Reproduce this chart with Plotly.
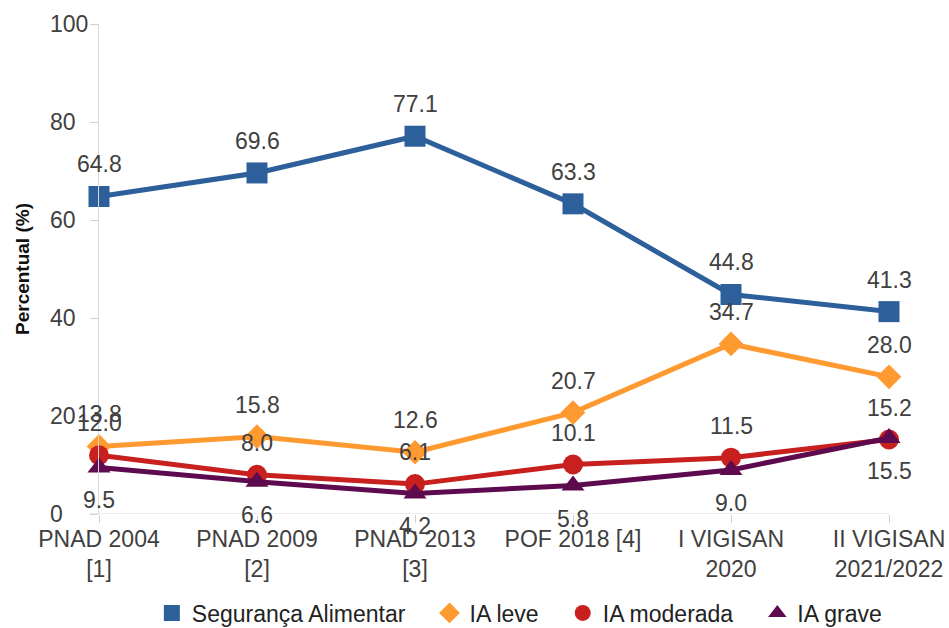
import plotly.graph_objects as go

categories = ["PNAD 2004<br>[1]", "PNAD 2009<br>[2]", "PNAD 2013<br>[3]",
              "POF 2018 [4]", "I VIGISAN<br>2020", "II VIGISAN<br>2021/2022"]
y_ticks = [0, 20, 40, 60, 80, 100]

seguranca = [64.8, 69.6, 77.1, 63.3, 44.8, 41.3]
ia_leve = [13.8, 15.8, 12.6, 20.7, 34.7, 28.0]
ia_moderada = [12.0, 8.0, 6.1, 10.1, 11.5, 15.2]
ia_grave = [9.5, 6.6, 4.2, 5.8, 9.0, 15.5]

# name, values, colour, marker symbol, marker size, label side (+1 above, -1 below)
series = [
    ("Segurança Alimentar", seguranca, "#2D5F9B", "square", 21, 1),
    ("IA leve", ia_leve, "#FF9A30", "diamond", 19, 1),
    ("IA moderada", ia_moderada, "#C81F1F", "circle", 20, 1),
    ("IA grave", ia_grave, "#5E0A4E", "triangle-up", 20, -1),
]

xs = list(range(len(categories)))
text_color = "#404040"
font_family = "Liberation Sans, Arial, sans-serif"
legend_pad = "\u00a0" * 3
plot_left, plot_width = 99, 790

fig = go.Figure()
annotations = []
for name, vals, color, symbol, size, side in series:
    fig.add_trace(go.Scatter(
        x=xs, y=vals, mode="lines+markers", name=name, showlegend=False,
        line=dict(color=color, width=5),
        marker=dict(symbol=symbol, size=size, color=color),
        cliponaxis=False, hoverinfo="skip",
    ))
    # marker-only entry for the legend
    fig.add_trace(go.Scatter(
        x=[None], y=[None], mode="markers", name=name + legend_pad,
        marker=dict(symbol=symbol, size=size, color=color),
    ))
    for x, v in zip(xs, vals):
        annotations.append(dict(
            x=x, y=v, xref="x", yref="y", text=f"{v:.1f}", showarrow=False,
            yshift=32 if side > 0 else -33,
            font=dict(size=23, color=text_color, family=font_family),
        ))

# left-aligned y tick labels
for t in y_ticks:
    annotations.append(dict(
        x=(48 - plot_left) / plot_width, y=t, xref="paper", yref="y",
        text=str(t), showarrow=False, xanchor="left", yanchor="middle",
        font=dict(size=23, color=text_color, family=font_family),
    ))

# y-axis title
annotations.append(dict(
    x=(22 - plot_left) / plot_width, y=0.5, xref="paper", yref="paper",
    text="<b>Percentual (%)</b>", textangle=-90, showarrow=False,
    xanchor="center", yanchor="middle",
    font=dict(size=19, color="#111111", family=font_family),
))

fig.update_layout(
    width=949, height=628,
    margin=dict(l=plot_left, r=949 - plot_left - plot_width, t=24, b=114),
    paper_bgcolor="white", plot_bgcolor="white",
    font=dict(family=font_family, size=23, color=text_color),
    annotations=annotations,
    showlegend=True,
    legend=dict(orientation="h", x=0.160, xanchor="left", xref="container",
                y=0.024, yanchor="middle", yref="container",
                font=dict(size=23, color="#222222"),
                traceorder="normal", itemwidth=30),
    xaxis=dict(
        tickmode="array", tickvals=xs, ticktext=categories,
        range=[0, 5], showgrid=False, zeroline=False, automargin=False,
        showline=False, ticks="outside", ticklen=8, tickcolor="#d0d0d0",
        ticklabelstandoff=-4,
        tickfont=dict(size=23, color=text_color),
    ),
    yaxis=dict(
        range=[0, 100], tickvals=y_ticks, showticklabels=False, automargin=False,
        showgrid=False, zeroline=False, showline=True, linecolor="#d9d9d9",
        linewidth=1, ticks="outside", ticklen=8, tickcolor="#d0d0d0",
    ),
    shapes=[dict(type="line", xref="paper", yref="y", x0=-0.012, x1=1, y0=0, y1=0,
                 line=dict(color="#d9d9d9", width=1), layer="below")],
)

fig.write_html("out.html")
